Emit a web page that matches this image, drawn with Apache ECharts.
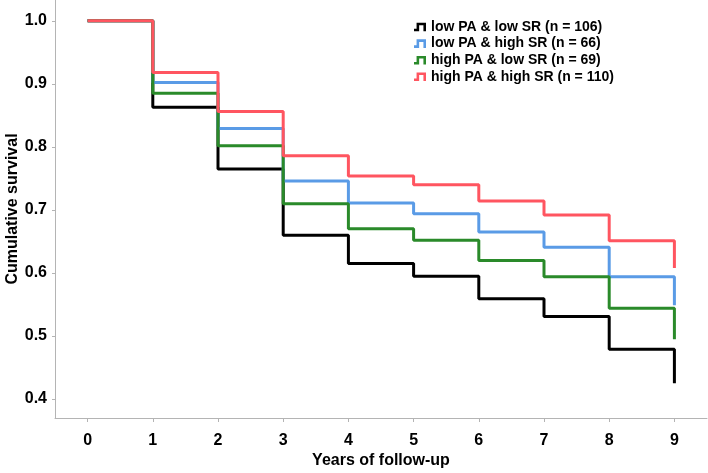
<!DOCTYPE html>
<html>
<head>
<meta charset="utf-8">
<script src="https://cdn.jsdelivr.net/npm/echarts@6/dist/echarts.min.js"></script>
<style>
html,body{margin:0;padding:0;background:#fff;}
#chart{width:708px;height:473px;}
</style>
</head>
<body>
<div id="chart"></div>
<script>
var years = [0, 1, 2, 3, 4, 5, 6, 7, 8, 9];
var xTickLabels = ['0','1','2','3','4','5','6','7','8','9'];
var yTickValues = [0.4, 0.5, 0.6, 0.7, 0.8, 0.9, 1.0];
var seriesNames = [
  'low PA & low SR (n = 106)',
  'low PA & high SR (n = 66)',
  'high PA & low SR (n = 69)',
  'high PA & high SR (n = 110)'
];
var lowPAlowSR   = [1.0, 0.863, 0.765, 0.660, 0.615, 0.595, 0.559, 0.531, 0.479, 0.425];
var lowPAhighSR  = [1.0, 0.902, 0.829, 0.746, 0.711, 0.694, 0.665, 0.641, 0.594, 0.549];
var highPAlowSR  = [1.0, 0.885, 0.802, 0.710, 0.670, 0.652, 0.620, 0.594, 0.544, 0.495];
var highPAhighSR = [1.0, 0.918, 0.856, 0.786, 0.754, 0.740, 0.714, 0.692, 0.651, 0.608];
var colors = ['#000000', '#5a9be6', '#2a8a2a', '#ff5560'];

function pairs(vals) {
  return years.map(function (x, i) { return [x, vals[i]]; });
}
var allVals = [lowPAlowSR, lowPAhighSR, highPAlowSR, highPAhighSR];
var icon = 'path://M0,10 L0,7 L3,7 L3,0 L14,0 L14,10 L11,10 L11,3 L6,3 L6,10 Z';

var chart = echarts.init(document.getElementById('chart'), null, {renderer: 'canvas'});
var font = 'Arial, "Liberation Sans", sans-serif';
chart.setOption({
  animation: false,
  backgroundColor: '#ffffff',
  grid: {left: 55, right: 1, top: 0, bottom: 55, containLabel: false, outerBoundsMode: 'none'},
  legend: {
    orient: 'vertical',
    left: 409,
    top: 15,
    itemWidth: 12,
    itemHeight: 10,
    itemGap: 2.6,
    icon: icon,
    textStyle: {fontFamily: font, fontWeight: 'bold', fontSize: 14, color: '#000'},
    data: seriesNames.map(function (n, i) { return {name: n, icon: icon, itemStyle: {color: colors[i]}}; })
  },
  xAxis: {
    type: 'value',
    min: -0.5,
    max: 9.5,
    name: 'Years of follow-up',
    nameLocation: 'middle',
    nameGap: 35,
    nameMoveOverlap: false,
    nameTextStyle: {fontFamily: font, fontWeight: 'bold', fontSize: 16, color: '#000'},
    axisLine: {show: true, onZero: false, lineStyle: {color: '#b4b4b4', width: 1}},
    axisTick: {show: true, length: 4, lineStyle: {color: '#b4b4b4'}, customValues: years},
    axisLabel: {
      fontFamily: font, fontWeight: 'bold', fontSize: 16, color: '#000', margin: 15,
      customValues: years,
      formatter: function (v) { var i = years.indexOf(Math.round(v)); return i >= 0 ? xTickLabels[i] : ''; }
    },
    splitLine: {show: false}
  },
  yAxis: {
    type: 'value',
    min: 0.37,
    max: 1.033,
    name: 'Cumulative survival',
    nameLocation: 'middle',
    nameGap: 34,
    nameMoveOverlap: false,
    nameTextStyle: {fontFamily: font, fontWeight: 'bold', fontSize: 16, color: '#000'},
    axisLine: {show: true, onZero: false, lineStyle: {color: '#b4b4b4', width: 1}},
    axisTick: {show: true, length: 3, lineStyle: {color: '#b4b4b4'}, customValues: yTickValues},
    axisLabel: {
      fontFamily: font, fontWeight: 'bold', fontSize: 16, color: '#000', margin: 8,
      customValues: yTickValues,
      formatter: function (v) { return v.toFixed(1); }
    },
    splitLine: {show: false}
  },
  series: allVals.map(function (vals, i) {
    return {
      name: seriesNames[i],
      type: 'line',
      step: 'end',
      data: pairs(vals),
      showSymbol: false,
      symbol: 'none',
      lineStyle: {color: colors[i], width: 3},
      itemStyle: {color: colors[i]},
      z: 2 + i
    };
  })
});
</script>
</body>
</html>
